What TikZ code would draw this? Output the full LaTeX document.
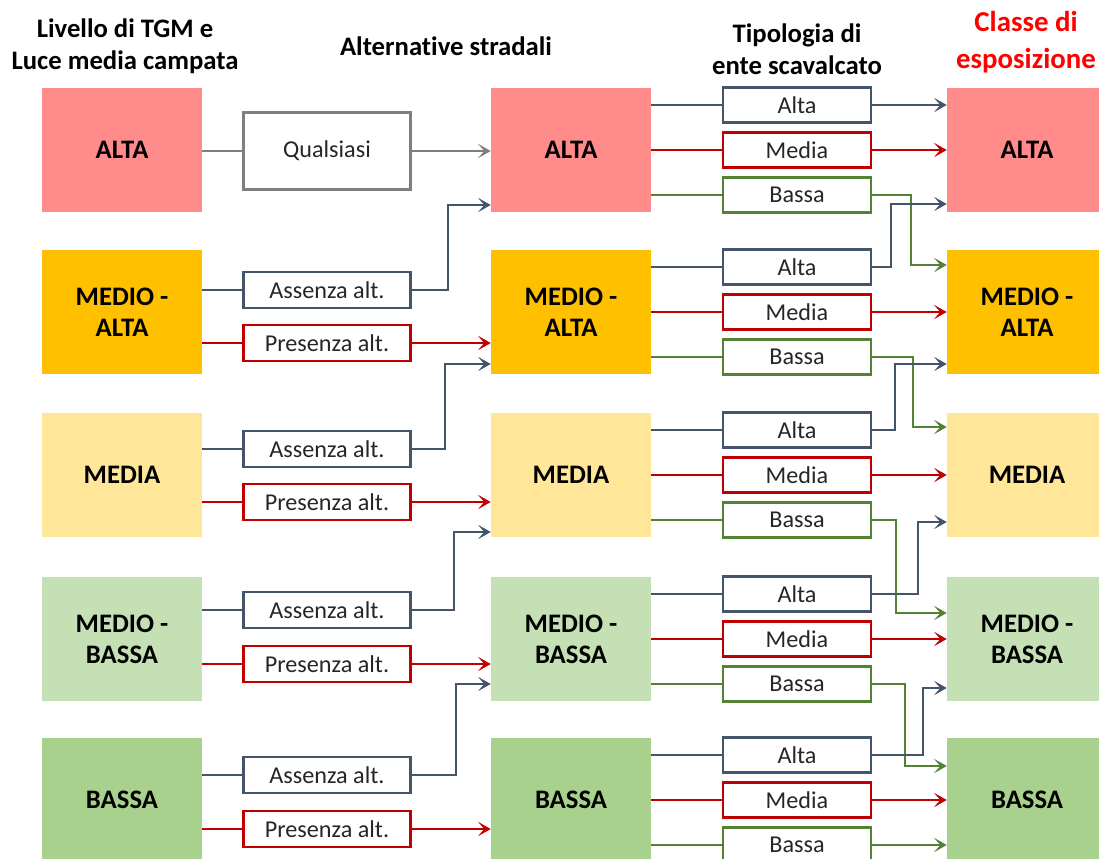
\documentclass[tikz,border=0pt]{standalone}
\usepackage{fontspec}
\setmainfont{Carlito}[Ligatures=NoCommon]
\usetikzlibrary{arrows.meta}
\usetikzlibrary{calc}
\usetikzlibrary{positioning}

\definecolor{alta}{HTML}{FF8B8B}
\definecolor{medioalta}{HTML}{FFC000}
\definecolor{media}{HTML}{FFE699}
\definecolor{mediobassa}{HTML}{C5E0B4}
\definecolor{bassa}{HTML}{A9D18E}
\definecolor{blu}{HTML}{44546A}
\definecolor{rosso}{HTML}{C00000}
\definecolor{verde}{HTML}{548235}
\definecolor{grigio}{HTML}{7F7F7F}
\definecolor{titolorosso}{HTML}{FF0000}

\begin{document}
\begin{tikzpicture}
    [   x = 0.25mm, y = -0.25mm
    ,   > = {Stealth[length=3.2mm,width=3.6mm,inset=1.6mm]}
    ,   livello/.style = {minimum width=40mm, minimum height=31mm, inner sep=0pt,
                          align=center, font=\fontsize{19}{22}\selectfont\bfseries}
    ,   scelta/.style = {draw, line width=1.7pt, fill=white, minimum width=41.75mm,
                         minimum height=9mm, inner sep=0pt, text=black!85,
                         font=\fontsize{17.2}{19}\selectfont}
    ,   tipo/.style = {scelta, minimum width=37mm, minimum height=8.75mm}
    ,   titolo/.style = {align=center, inner sep=0pt, font=\fontsize{19}{23}\selectfont\bfseries}
    ,   blu/.style = {draw=blu, line width=1.7pt}
    ,   rosso/.style = {draw=rosso, line width=1.7pt}
    ,   verde/.style = {draw=verde, line width=1.7pt}
    ,   grigio/.style = {draw=grigio, line width=1.7pt}
    ]
    \useasboundingbox (0,0) rectangle (1099,858);

    % column titles
    \node[titolo] (t1) at (125,46) {Livello di TGM e\\Luce media campata};
    \node[titolo] (t2) at (446,46) {Alternative stradali};
    \node[titolo] (t3) at (797,49) {Tipologia di\\ente scavalcato};
    \node[titolo, text=titolorosso, font=\fontsize{20.5}{26}\selectfont\bfseries]
        (t4) at (1026,42) {Classe di\\esposizione};

    % the three columns of classes
    \foreach\n/\y/\c/\t in {1/150/alta/ALTA,2/312/medioalta/{MEDIO -\\ALTA},
        3/475/media/MEDIA,4/639/mediobassa/{MEDIO -\\BASSA},5/800/bassa/BASSA}
    {
        \node[livello, fill=\c] (L\n) at (122,\y) {\t};
        \node[livello, fill=\c] (M\n) at (571,\y) {\t};
        \node[livello, fill=\c] (R\n) at (1027,\y) {\t};
        \node[tipo, draw=blu] (TA\n) at (797,\y-45) {Alta};
        \node[tipo, draw=rosso] (TM\n) at (797,\y) {Media};
        \node[tipo, draw=verde] (TB\n) at (797,\y+45) {Bassa};
    }

    % alternative stradali
    \node[scelta, draw=grigio, minimum height=19.25mm] (Q1) at (327,151) {Qualsiasi};
    \foreach\n/\ya/\yp in {2/290/343,3/449/502,4/610/664,5/775/829}
    {
        \node[scelta, draw=blu] (A\n) at (327,\ya) {Assenza alt.};
        \node[scelta, draw=rosso] (P\n) at (327,\yp) {Presenza alt.};
    }

    \draw[grigio] (Q1.west -| L1.east) -- (Q1.west);
    \draw[grigio, ->] (Q1.east) -- (Q1.east -| M1.west);
    \foreach\n/\m/\dx/\dy in {2/1/36/55,3/2/33/52,4/3/42/57,5/4/44/45}
    {
        \draw[blu] (A\n.west -| L\n.east) -- (A\n.west);
        \draw[blu, ->] (A\n.east) -- ++(\dx,0) |- ($(M\m.west)+(0,\dy)$);
        \draw[rosso] (P\n.west -| L\n.east) -- (P\n.west);
        \draw[rosso, ->] (P\n.east) -- (P\n.east -| M\n.west);
    }

    % ente scavalcato
    \foreach\n in {1,...,5}
    {
        \draw[blu] (TA\n.west -| M\n.east) -- (TA\n.west);
        \draw[rosso] (TM\n.west -| M\n.east) -- (TM\n.west);
        \draw[verde] (TB\n.west -| M\n.east) -- (TB\n.west);
        \draw[rosso, ->] (TM\n.east) -- (TM\n.east -| R\n.west);
    }
    \draw[blu, ->] (TA1.east) -- (TA1.east -| R1.west);
    \draw[verde, ->] (TB5.east) -- (TB5.east -| R5.west);
    \foreach\n/\m/\dx/\dy in {1/2/39/-47,2/3/41/-48,3/4/24/-26,4/5/33/-34}
        \draw[verde, ->] (TB\n.east) -- ++(\dx,0) |- ($(R\m.west)+(0,\dy)$);
    \foreach\n/\m/\dx/\dy in {2/1/19/54,3/2/23/52,4/3/46/47,5/4/51/49}
        \draw[blu, ->] (TA\n.east) -- ++(\dx,0) |- ($(R\m.west)+(0,\dy)$);
\end{tikzpicture}
\end{document}
